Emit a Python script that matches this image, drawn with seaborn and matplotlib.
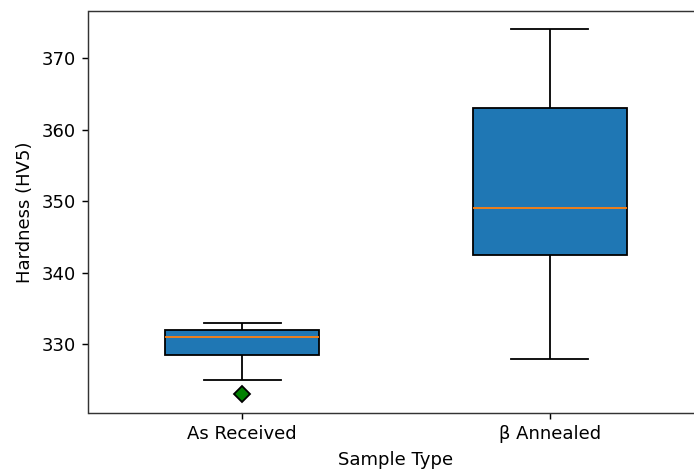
import matplotlib
matplotlib.use("Agg")
import matplotlib.pyplot as plt
import seaborn as sns
import pandas as pd

categories = ["As Received", "β Annealed"]
as_received = [323, 325, 328, 330, 331, 331, 332, 332, 332, 333]
beta_annealed = [328, 342, 344, 354, 366, 374]

df = pd.DataFrame({
    "Sample Type": [categories[0]] * len(as_received) + [categories[1]] * len(beta_annealed),
    "Hardness (HV5)": as_received + beta_annealed,
})

plt.rcParams["font.family"] = ["DejaVu Sans"]
DPI = 130
fig = plt.figure(figsize=(694 / DPI, 471 / DPI), dpi=DPI)
ax = fig.add_axes([88.5 / 694, (471 - 412.7) / 471, 615 / 694, 401.7 / 471])

sns.boxplot(
    data=df, x="Sample Type", y="Hardness (HV5)", order=categories,
    color="#1f77b4", saturation=1, width=0.5, linecolor="black", linewidth=1,
    medianprops={"color": "#ff7f0e", "linewidth": 1},
    flierprops={"marker": "D", "markerfacecolor": "green", "markeredgecolor": "black",
                "markersize": 6},
    ax=ax,
)
ax.set_xlim(-0.5, 1.5)
ax.set_ylim(320.45, 376.55)
ax.set_yticks([330, 340, 350, 360, 370])
ax.set_xlabel("Sample Type")
ax.set_ylabel("Hardness (HV5)")
for s in ax.spines.values():
    s.set_color("#333333")

fig.savefig("out.png", dpi=DPI)
